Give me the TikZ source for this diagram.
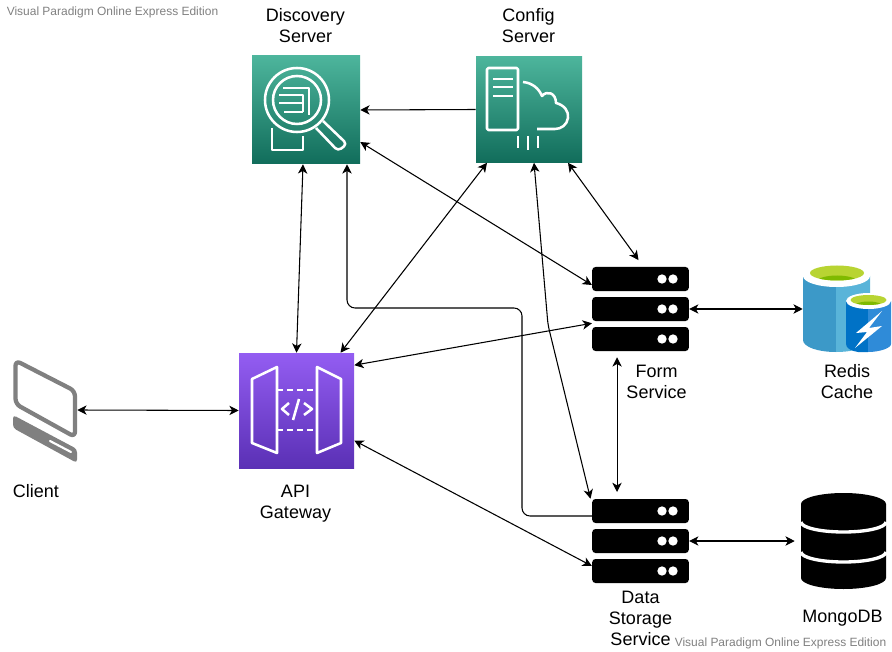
\documentclass[tikz,border=0pt]{standalone}
\usepackage{fontspec}
\setmainfont{Liberation Sans}
\usetikzlibrary{arrows.meta,positioning}
\definecolor{discTop}{HTML}{4DB59C}
\definecolor{discBot}{HTML}{116D5B}
\definecolor{apiTop}{HTML}{945DF2}
\definecolor{apiBot}{HTML}{5A30B5}
\definecolor{clientGray}{HTML}{808080}
\definecolor{stampGray}{HTML}{808080}
\definecolor{redisDark}{HTML}{3C99C8}
\definecolor{redisLight}{HTML}{59B4D9}
\definecolor{cacheDark}{HTML}{0072C6}
\definecolor{cacheLight}{HTML}{2F8BD8}
\definecolor{limeTop}{HTML}{B8D432}
\definecolor{limeBot}{HTML}{7FBA00}

\begin{document}
\begin{tikzpicture}[
        x=0.75pt, y=-0.75pt,
        font=\fontsize{13.5}{15.75}\selectfont,
        caption/.style={align=center, inner sep=0pt},
        stamp/.style={font=\fontsize{8.98}{10}\selectfont, text=stampGray, inner sep=0pt},
        greenbox/.style={minimum size=#1, inner sep=0pt, top color=discTop, bottom color=discBot},
        purplebox/.style={minimum size=86.25pt, inner sep=0pt, top color=apiTop, bottom color=apiBot},
        rack/.style={fill=black, rounded corners=2.5pt, minimum width=72.5pt, minimum height=18pt, inner sep=0pt},
        hole/.style={fill=white, circle, minimum size=7pt, inner sep=0pt},
        ghost/.style={inner sep=0pt},
        icon/.style={draw=white, line width=1.9pt, line join=round},
        arrow/.style={-{Stealth[length=7pt,width=7pt,inset=2pt]}, line width=0.8pt},
        both/.style={{Stealth[length=7pt,width=7pt,inset=2pt]}-{Stealth[length=7pt,width=7pt,inset=2pt]}, line width=0.8pt}
        ]

        \useasboundingbox (0,0) rectangle (892,652);

        % --- Top: discovery and config ---
        \node[greenbox=81pt] (disc) at (306,110) {};
        \node[greenbox=79.5pt] (config) at (529,109.5) {};
        \node[caption] (discText) at (305.5,25.5) {Discovery\\Server};
        \node[caption] (configText) at (528.5,25.5) {Config\\Server};

        % --- Left: client and gateway ---
        \node[ghost, minimum width=48pt, minimum height=78pt] (client) at (45,410) {};
        \node[purplebox] (api) at (296.5,410.5) {};
        \node[caption] (clientText) at (36,491) {Client};
        \node[caption] (apiText) at (295.5,503.5) {API\\Gateway};

        % --- Form service ---
        \node[rack] (formA) at (640.5,279) {};
        \node[rack] (formB) at (640.5,309) {};
        \node[rack] (formC) at (640.5,339) {};
        \node[caption] (formText) at (656.5,381.5) {Form\\Service};
        \node[ghost, minimum width=66pt, minimum height=64.5pt] (redis) at (847,309) {};
        \node[caption] (redisText) at (847,381.5) {Redis\\Cache};

        % --- Data storage ---
        \node[rack] (dataA) at (640.5,511) {};
        \node[rack] (dataB) at (640.5,541) {};
        \node[rack] (dataC) at (640.5,571) {};
        \node[caption] (dataText) at (640.5,618.5) {Data\\Storage\\Service};
        \node[ghost, minimum width=63.75pt, minimum height=72pt] (mongo) at (843.5,541) {};
        \node[caption] (mongoText) at (842.5,618.5) {MongoDB};

        % --- Watermarks ---
        \node[stamp] (stampA) at (112.5,12) {Visual Paradigm Online Express Edition};
        \node[stamp] (stampB) at (780.5,643) {Visual Paradigm Online Express Edition};

        % --- Rack holes ---
        \foreach \y in {279,309,339,511,541,571} {
            \node[hole] at (662,\y) {};
            \node[hole] at (673,\y) {};
        }

        % --- Discovery icon ---
        \draw[icon] (297,100) circle (32);
        \draw[icon] (297,100) circle (24);
        \draw[icon] (283,88) -- (309,88) -- (309,115);
        \draw[icon] (279,95) -- (303,95) -- (303,112) (279,103) -- (303,103) (284,112) -- (303,112);
        \draw[icon] (272,128) -- (272,150) -- (303,150) -- (303,136);
        \draw[icon, rounded corners=3pt] (323,121) -- (347,144) -- (338,151) -- (316,128);

        % --- Config icon ---
        \draw[icon, rounded corners=1pt] (487,68) rectangle (518,130);
        \draw[icon] (493,79) -- (513,79) (493,87) -- (513,87) (493,96) -- (513,96);
        \draw[icon] (523,82) .. controls (533,83) and (539,89) .. (542,96)
            .. controls (547,90) and (556,93) .. (556,103)
            .. controls (564,105) and (569,111) .. (568,118)
            .. controls (567,125) and (561,129) .. (555,129) -- (537,129);
        \draw[icon] (518,136) -- (518,148) (528,136) -- (528,150) (538,136) -- (538,148);

        % --- Gateway icon ---
        \draw[icon] (277,367) -- (252,379) -- (252,443) -- (277,453) -- cycle;
        \draw[icon] (317,367) -- (341,379) -- (341,443) -- (317,453) -- cycle;
        \draw[icon, dash pattern=on 4.5pt off 3pt] (277,390) -- (317,390);
        \draw[icon, dash pattern=on 4.5pt off 3pt] (277,430) -- (317,430);
        \draw[icon] (289,403) -- (282,409) -- (289,415);
        \draw[icon] (304,403) -- (312,409) -- (304,415);
        \draw[icon] (299,399) -- (293,420);

        % --- Client icon ---
        \draw[clientGray, line width=3.2pt, line join=round, rounded corners=4pt]
            (15.5,360.5) -- (75,391) -- (75,437) -- (15.5,404) -- cycle;
        \fill[clientGray, rounded corners=2.5pt] (13,415) -- (77,449) -- (77,463) -- (13,428) -- cycle;
        \draw[white, line width=1.6pt, line cap=round] (50,441) -- (71,452);

        % --- Redis icon ---
        \fill[redisDark] (803,276) -- (836,276) -- (836,352) .. controls (818,352) and (803,347) .. (803,340) -- cycle;
        \fill[redisLight] (836,276) -- (870,276) -- (870,340) .. controls (870,347) and (854,352) .. (836,352) -- cycle;
        \fill[white] (836.5,276) ellipse (33.5 and 11);
        \fill[limeTop] (837,273) ellipse (27 and 7.5);
        \begin{scope}
            \clip (837,273) ellipse (27 and 7.5);
            \fill[limeBot] (837,283) ellipse (22 and 7.5);
        \end{scope}
        \fill[cacheDark] (846,301) -- (868,301) -- (868,352) -- (858,352) .. controls (851,351) and (846,348) .. (846,344) -- cycle;
        \fill[cacheLight] (868,301) -- (891,301) -- (891,344) .. controls (891,348) and (880,352) .. (868,352) -- cycle;
        \fill[white] (868.5,301) ellipse (22.5 and 8);
        \fill[limeTop] (868.5,300) ellipse (18 and 5);
        \begin{scope}
            \clip (868.5,300) ellipse (18 and 5);
            \fill[limeBot] (868.5,306) ellipse (14 and 4.5);
        \end{scope}
        \fill[white] (882,311) -- (856,333) -- (867,332) -- (855,348) -- (882,326) -- (869,328) -- cycle;

        % --- Mongo icon ---
        \fill[black] (801,504) arc[start angle=180, end angle=360, x radius=42.5, y radius=11]
            -- (886,578) arc[start angle=0, end angle=180, x radius=42.5, y radius=11] -- cycle;
        \draw[white, line width=2.5pt] (801,522) arc[start angle=180, end angle=0, x radius=42.5, y radius=10];
        \draw[white, line width=2.5pt] (801,552) arc[start angle=180, end angle=0, x radius=42.5, y radius=10];

        % --- Arrows ---
        \coordinate (elbowA) at (522,308);
        \coordinate (bendA) at (548,325);
        \draw[arrow] (config.west) -- (disc.east);
        \draw[both] ([xshift=-2.25pt]disc.south) -- (api.north);
        \draw[both] ([yshift=-24pt]disc.east) -- ([yshift=-4.5pt]formA.west);
        \draw[both] ([xshift=-31.5pt]config.south) -- ([xshift=33pt]api.north);
        \draw[both] ([xshift=29.25pt]config.south) -- ([shift={(-1.5pt,5pt)}]formA.north);
        \draw[both, rounded corners=4pt] ([xshift=3.75pt]config.south) -- (bendA) -- ([xshift=-37.5pt]dataA.north);
        \draw[arrow, rounded corners=6pt] ([yshift=-3.75pt]dataA.west) -| (elbowA) -| ([xshift=30.75pt]disc.south);
        \draw[both] ([yshift=34pt]api.east) -- ([yshift=-1.5pt]formB.south west);
        \draw[both] ([yshift=-22.5pt]api.east) -- ([yshift=3.75pt]dataC.west);
        \draw[both] (client.east) -- (api.west);
        \draw[both] ([shift={(-17.6pt,-4.5pt)}]formC.south) -- ([shift={(-17.6pt,5pt)}]dataA.north);
        \draw[both] (formB.east) -- (redis.west);
        \draw[both] (dataB.east) -- ([xshift=-4.5pt]mongo.west);

    \end{tikzpicture}
\end{document}
